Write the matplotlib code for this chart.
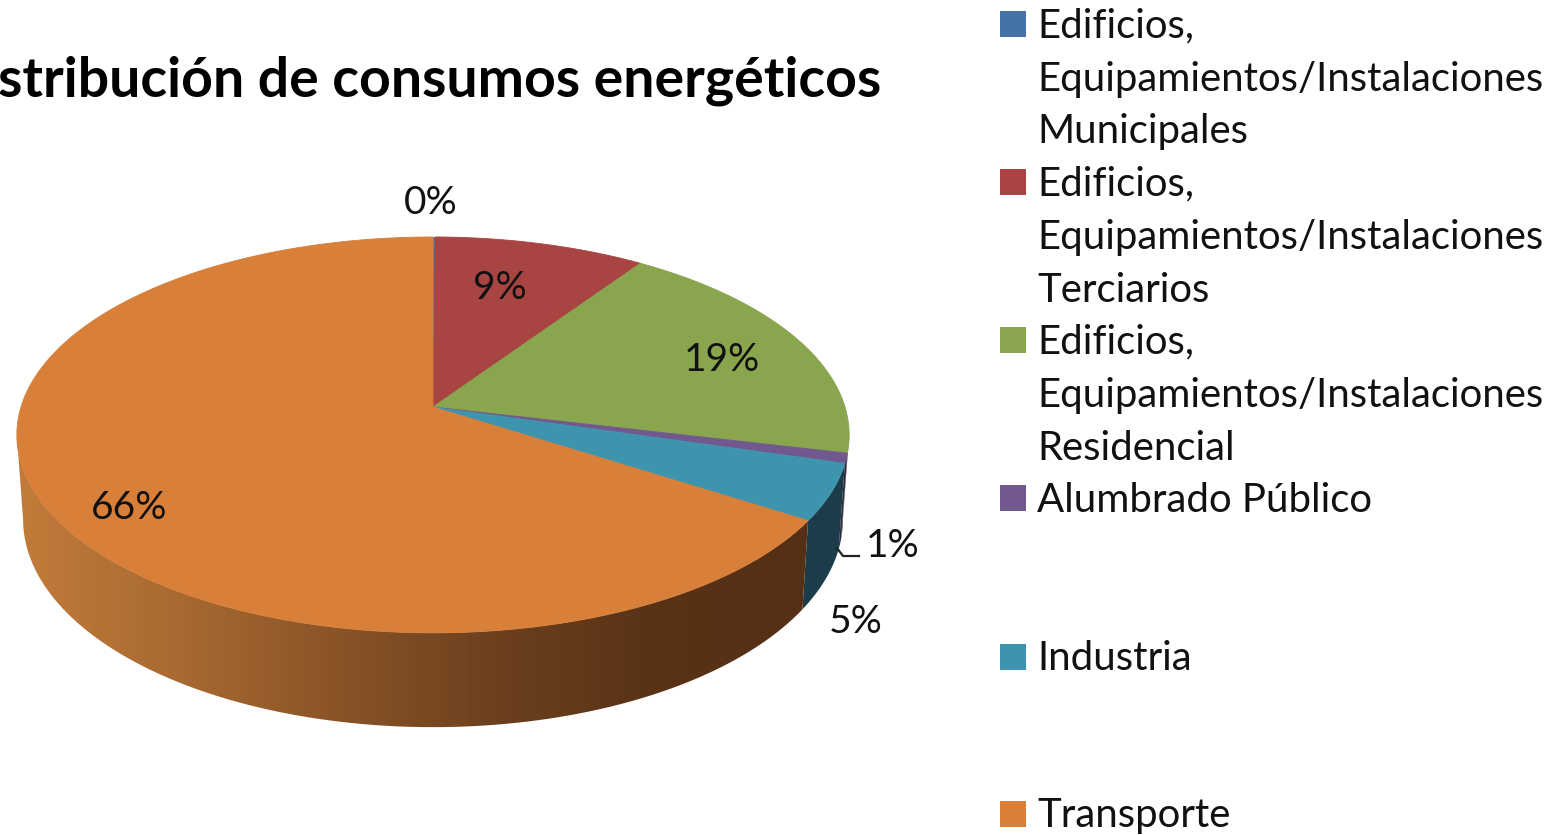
"""
3D style pie of energy consumption shares, drawn in pixel coordinates.
"""

import numpy as np
import matplotlib
matplotlib.use('Agg')
import matplotlib.pyplot as plt
from matplotlib.colors import LinearSegmentedColormap
from matplotlib.patches import Polygon, Rectangle

plt.rcParams['font.family'] = ['Lato', 'DejaVu Sans']

# Data
title = 'Distribución de consumos energéticos'
shares = [0.1, 9.4, 19.2, 0.8, 4.6, 65.9]
share_labels = ['0%', '9%', '19%', '1%', '5%', '66%']
legend_rows = [
    ['Edificios,', 'Equipamientos/Instalaciones', 'Municipales'],
    ['Edificios,', 'Equipamientos/Instalaciones', 'Terciarios'],
    ['Edificios,', 'Equipamientos/Instalaciones', 'Residencial'],
    ['Alumbrado Público'],
    ['Industria'],
    ['Transporte'],
]
top_colors = ['#4572a7', '#a84442', '#89a54e', '#71588f', '#3f94ad', '#d87f3a']
side_colors = ['#22384f', '#542220', '#445226', '#2e2440', '#1b3c48', '#5a3216']

# Pie geometry (pixels)
cx, cy = 433, 407
radius = 412
persp = 0.141
squash = 194
side_dy = 83
side_sx = 0.985
side_sy = 1.05


def top_edge(a):
    d = 1 + persp * np.cos(a)
    return cx + radius * np.sin(a) / d, cy - squash * np.cos(a) / d


def bottom_edge(a):
    d = 1 + persp * np.cos(a)
    return (cx + side_sx * radius * np.sin(a) / d,
            cy + side_dy - side_sy * squash * np.cos(a) / d)


fig = plt.figure(figsize=(15.52, 8.35), dpi=100)
ax = fig.add_axes([0, 0, 1, 1])
ax.set_xlim(0, 1552)
ax.set_ylim(835, 0)
ax.axis('off')

edges = np.cumsum([0] + shares) / sum(shares) * 2 * np.pi

# Visible part of the side wall runs between the two horizontal extremes
scan = np.linspace(0, 2 * np.pi, 3601)
scan_x = top_edge(scan)[0]
vis_start, vis_end = scan[np.argmax(scan_x)], scan[np.argmin(scan_x)]

side_cmap = LinearSegmentedColormap.from_list(
    'side', ['#c27b3a', '#a96a31', '#8a5428', '#6d411e', '#5a3216', '#553015'])

for i in range(len(shares)):
    lo, hi = max(edges[i], vis_start), min(edges[i + 1], vis_end)
    if lo >= hi:
        continue
    a = np.linspace(lo, hi, 200)
    tx, ty = top_edge(a)
    bx, by = bottom_edge(a)
    pts = np.vstack([np.column_stack([tx, ty]), np.column_stack([bx, by])[::-1]])
    if i == len(shares) - 1:
        # Orange wall has a horizontal shade from left to right
        poly = Polygon(pts, closed=True, fc='none', ec='none')
        ax.add_patch(poly)
        grad = np.linspace(0, 1, 256).reshape(1, -1)
        im = ax.imshow(grad, cmap=side_cmap, aspect='auto', zorder=1,
                       extent=[pts[:, 0].min(), pts[:, 0].max(), 835, 0])
        im.set_clip_path(poly)
    else:
        ax.add_patch(Polygon(pts, closed=True, fc=side_colors[i], ec='none', zorder=1))

ax.set_xlim(0, 1552)
ax.set_ylim(835, 0)

# Top face
for i in range(len(shares)):
    a = np.linspace(edges[i], edges[i + 1], 300)
    tx, ty = top_edge(a)
    pts = np.vstack([[cx, cy], np.column_stack([tx, ty])])
    ax.add_patch(Polygon(pts, closed=True, fc=top_colors[i], ec=top_colors[i],
                         lw=0.6, zorder=2))

# Slice labels
label_xy = [(431, 203), (500, 288), (722, 360), (893, 546), (856, 622), (129, 508)]
for text, (x, y) in zip(share_labels, label_xy):
    ax.text(x, y, text, fontsize=28, color='#111111', ha='center', va='center', zorder=4)

# Leader line for the 1% label
ax.plot([837, 843, 859], [548, 556, 556], color='#222222', lw=1.6, zorder=3)

# Title runs off the left edge
ax.text(881, 81, title, fontsize=39.9, fontweight='bold', color='black',
        ha='right', va='center', zorder=4)

# Legend
row_y = [24, 182, 340, 498, 657, 814]
for rows, y, color in zip(legend_rows, row_y, top_colors):
    ax.add_patch(Rectangle((1000, y - 13), 26, 26, fc=color, ec='none'))
    for j, line in enumerate(rows):
        ax.text(1037, y + 2 + j * 53, line, fontsize=28.9, color='#111111',
                ha='left', va='center')

fig.savefig('out.png', dpi=100)
